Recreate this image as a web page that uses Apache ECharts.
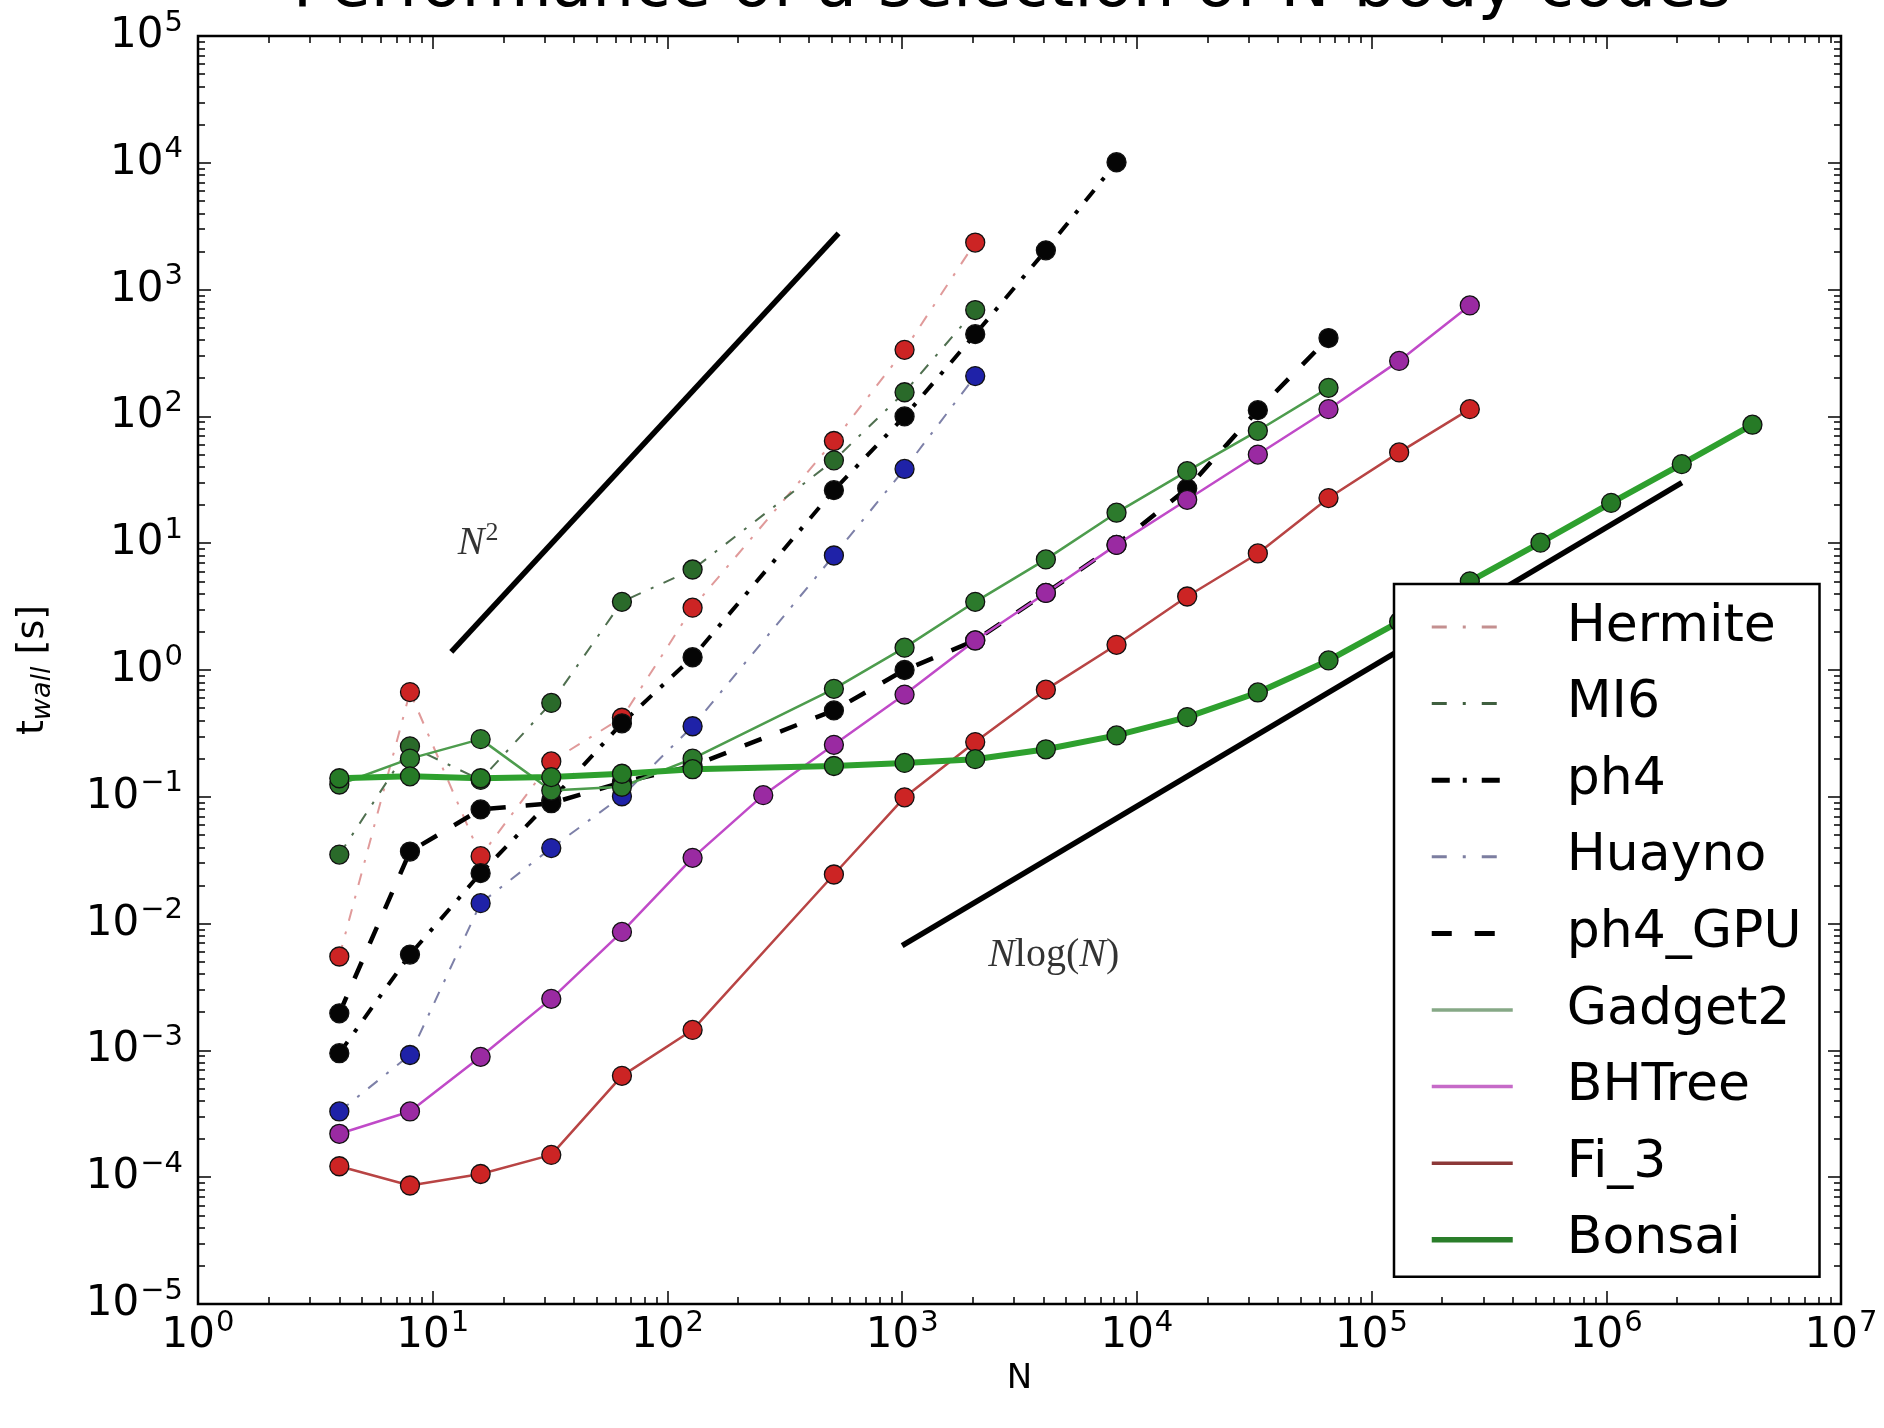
<!DOCTYPE html>
<html>
<head>
<meta charset="utf-8">
<script src="https://cdn.jsdelivr.net/npm/echarts@6/dist/echarts.min.js"></script>
<style>
html,body{margin:0;padding:0;background:#ffffff;}
#chart{width:1884px;height:1428px;}
</style>
</head>
<body>
<div id="chart"></div>
<script>
// ---------------- data ----------------
const chartTitle = 'Performance of a selection of N-body codes';
const xAxisName = 'N';
const seriesNames = ['Hermite', 'MI6', 'ph4', 'Huayno', 'ph4_GPU', 'Gadget2', 'BHTree', 'Fi_3', 'Bonsai'];

const nDirect   = [4, 8, 16, 32, 64, 128, 512, 1024, 2048];
const hermiteT  = [0.0055, 0.67, 0.034, 0.19, 0.42, 3.1, 64, 335, 2350];
const mi6T      = [0.035, 0.25, 0.136, 0.55, 3.45, 6.2, 45, 155, 690];
const huaynoT   = [0.00033, 0.00092, 0.0145, 0.0394, 0.101, 0.36, 8.0, 38.5, 208];

const ph4N      = [4, 8, 16, 32, 64, 128, 512, 1024, 2048, 4096, 8192];
const ph4T      = [0.00095, 0.0057, 0.025, 0.094, 0.38, 1.26, 26.2, 100, 445, 2040, 10100];

const ph4GpuN   = [4, 8, 16, 32, 64, 128, 512, 1024, 2048, 4096, 8192, 16384, 32768, 65536];
const ph4GpuT   = [0.00196, 0.037, 0.0795, 0.089, 0.13, 0.175, 0.48, 1.0, 1.71, 4.05, 9.7, 27, 112, 415];

const gadget2N  = [4, 8, 16, 32, 64, 128, 512, 1024, 2048, 4096, 8192, 16384, 32768, 65536];
const gadget2T  = [0.125, 0.2, 0.285, 0.112, 0.12, 0.2, 0.71, 1.5, 3.45, 7.45, 17.4, 37, 77, 168];

const bhtreeN   = [4, 8, 16, 32, 64, 128, 256, 512, 1024, 2048, 4096, 8192, 16384, 32768, 65536, 131072, 262144];
const bhtreeT   = [0.00022, 0.00033, 0.00089, 0.00255, 0.0086, 0.033, 0.103, 0.257, 0.64, 1.71, 4.05, 9.7, 22, 50, 114, 274, 750];

const fi3N      = [4, 8, 16, 32, 64, 128, 512, 1024, 2048, 4096, 8192, 16384, 32768, 65536, 131072, 262144];
const fi3T      = [0.000122, 0.000086, 0.000106, 0.00015, 0.00063, 0.00145, 0.0244, 0.099, 0.27, 0.7, 1.58, 3.8, 8.3, 22.7, 52, 114];

const bonsaiN   = [4, 8, 16, 32, 64, 128, 512, 1024, 2048, 4096, 8192, 16384, 32768, 65536, 131072, 262144, 524288, 1048576, 2097152, 4194304];
const bonsaiT   = [0.14, 0.145, 0.14, 0.143, 0.152, 0.165, 0.175, 0.185, 0.198, 0.237, 0.305, 0.425, 0.665, 1.19, 2.4, 5.0, 10.1, 20.8, 42, 86];

// reference slopes drawn in the figure (end points)
const nSquaredN = [12, 536];
const nSquaredT = [1.39, 2780];
const nLogNN    = [1000, 2100000];
const nLogNT    = [0.0067, 30];

// annotation anchors (data coordinates)
const annotN    = [15.6, 4425];
const annotT    = [9.9, 0.00564];
const annotText = ['N2', 'NlogN'];

// axis ticks
const xMajorTicks = [1, 10, 100, 1000, 10000, 100000, 1000000, 10000000];
const yMajorTicks = [1e-5, 1e-4, 1e-3, 1e-2, 1e-1, 1, 10, 100, 1000, 10000, 100000];
const minorSteps  = [2, 3, 4, 5, 6, 7, 8, 9];

// ---------------- styles ----------------
const styleMap = {
  Hermite: { line: '#e09a9a', width: 2,   dash: [12, 11, 3, 11], marker: '#cc2424',
             legLine: '#c49090', legWidth: 3,   legDash: [15, 16, 3, 16] },
  MI6:     { line: '#4f6f4f', width: 2,   dash: [12, 11, 3, 11], marker: '#2a6a2a',
             legLine: '#3f5f3f', legWidth: 3,   legDash: [15, 16, 3, 16] },
  ph4:     { line: '#000000', width: 4,   dash: [14, 12, 4, 12], marker: '#050505',
             legLine: '#000000', legWidth: 5,   legDash: [18, 13, 4, 15] },
  Huayno:  { line: '#7d80a8', width: 2,   dash: [12, 11, 3, 11], marker: '#1f22a8',
             legLine: '#7c7ea0', legWidth: 3,   legDash: [15, 16, 3, 16] },
  ph4_GPU: { line: '#000000', width: 4.5, dash: [18, 20],        marker: '#050505',
             legLine: '#000000', legWidth: 5,   legDash: [20, 23] },
  Gadget2: { line: '#4d9c4d', width: 2.5, dash: 'solid',         marker: '#2c7a2c',
             legLine: '#86a886', legWidth: 3.5, legDash: 'solid' },
  BHTree:  { line: '#c04ac8', width: 2.5, dash: 'solid',         marker: '#9a2aa2',
             legLine: '#c66ac8', legWidth: 3.5, legDash: 'solid' },
  Fi_3:    { line: '#b84444', width: 2.5, dash: 'solid',         marker: '#cc2424',
             legLine: '#8c3838', legWidth: 3.5, legDash: 'solid' },
  Bonsai:  { line: '#2ea02e', width: 6,   dash: 'solid',         marker: '#267a26',
             legLine: '#2a7e2a', legWidth: 5.5, legDash: 'solid' }
};

const FONT = 'DejaVu Sans';
const zip = (xs, ys) => xs.map((x, i) => [x, ys[i]]);
const minorsOf = majors => {
  const out = [];
  for (let i = 0; i < majors.length - 1; i++) minorSteps.forEach(m => out.push(majors[i] * m));
  return out;
};
const xMinorTicks = minorsOf(xMajorTicks);
const yMinorTicks = minorsOf(yMajorTicks);

const powLabel = v => {
  const e = Math.round(Math.log10(v));
  const s = e < 0 ? '\u2212' + (-e) : String(e);
  return '{b|10}{s|' + s + '}';
};
const powRich = {
  b: { fontFamily: FONT, fontSize: 42, color: '#000' },
  s: { fontFamily: FONT, fontSize: 29, color: '#000', padding: [0, 0, 26, 1] }
};

const seriesData = {
  Hermite: zip(nDirect, hermiteT),
  MI6: zip(nDirect, mi6T),
  ph4: zip(ph4N, ph4T),
  Huayno: zip(nDirect, huaynoT),
  ph4_GPU: zip(ph4GpuN, ph4GpuT),
  Gadget2: zip(gadget2N, gadget2T),
  BHTree: zip(bhtreeN, bhtreeT),
  Fi_3: zip(fi3N, fi3T),
  Bonsai: zip(bonsaiN, bonsaiT)
};

const mainSeries = seriesNames.map(name => {
  const st = styleMap[name];
  return {
    name: name,
    type: 'line',
    data: seriesData[name],
    xAxisIndex: 0, yAxisIndex: 0,
    symbol: 'circle',
    symbolSize: 19,
    showSymbol: true,
    clip: true,
    itemStyle: { color: st.marker, borderColor: '#111', borderWidth: 1.3 },
    lineStyle: { color: st.line, width: st.width, type: st.dash },
    emphasis: { disabled: true },
    animation: false
  };
});

const refLine = (n, t) => ({
  type: 'line',
  data: zip(n, t),
  symbol: 'none',
  lineStyle: { color: '#000', width: 5.5, type: 'solid' },
  xAxisIndex: 0, yAxisIndex: 0,
  emphasis: { disabled: true },
  silent: true,
  animation: false
});

const mathRich = {
  i: { fontFamily: 'Liberation Serif', fontStyle: 'italic', fontSize: 40, color: '#000' },
  r: { fontFamily: 'Liberation Serif', fontSize: 40, color: '#000' },
  s: { fontFamily: 'Liberation Serif', fontSize: 26, color: '#000', padding: [0, 0, 22, 1] }
};
const annotFormat = key => key === 'N2' ? '{i|N}{s|2}' : '{i|N}{r|log(}{i|N}{r|)}';

const annotSeries = {
  type: 'scatter',
  data: annotN.map((n, i) => ({ value: [n, annotT[i]], key: annotText[i] })),
  symbolSize: 1,
  itemStyle: { color: 'rgba(0,0,0,0)' },
  label: {
    show: true,
    position: 'inside',
    formatter: p => annotFormat(p.data.key),
    rich: mathRich
  },
  xAxisIndex: 0, yAxisIndex: 0,
  silent: true,
  animation: false
};

const baseLog = (min, max) => ({
  type: 'log', logBase: 10, min: min, max: max,
  axisLine: { show: false },
  splitLine: { show: false },
  minorTick: { show: false },
  minorSplitLine: { show: false }
});

const tickStyle = { color: '#000', width: 1.5 };

const xAxes = [
  Object.assign(baseLog(1, 1e7), {
    position: 'bottom',
    axisTick: { show: true, inside: true, length: 13, customValues: xMajorTicks, lineStyle: tickStyle },
    axisLabel: { show: true, customValues: xMajorTicks, margin: 5, formatter: powLabel, rich: powRich },
    name: xAxisName, nameLocation: 'middle', nameGap: 55,
    nameTextStyle: { fontFamily: FONT, fontSize: 34, color: '#000' }
  }),
  Object.assign(baseLog(1, 1e7), {
    position: 'bottom',
    axisTick: { show: true, inside: true, length: 7, customValues: xMinorTicks, lineStyle: tickStyle },
    axisLabel: { show: false }
  }),
  Object.assign(baseLog(1, 1e7), {
    position: 'top',
    axisTick: { show: true, inside: true, length: 13, customValues: xMajorTicks, lineStyle: tickStyle },
    axisLabel: { show: false }
  }),
  Object.assign(baseLog(1, 1e7), {
    position: 'top',
    axisTick: { show: true, inside: true, length: 7, customValues: xMinorTicks, lineStyle: tickStyle },
    axisLabel: { show: false }
  })
];

const yAxes = [
  Object.assign(baseLog(1e-5, 1e5), {
    position: 'left',
    axisTick: { show: true, inside: true, length: 13, customValues: yMajorTicks, lineStyle: tickStyle },
    axisLabel: { show: true, customValues: yMajorTicks, margin: 15, formatter: powLabel, rich: powRich },
    name: '{t|t}{w|wall}{t| [s]}', nameLocation: 'middle', nameGap: 142, nameRotate: 90,
    nameTextStyle: {
      rich: {
        t: { fontFamily: FONT, fontSize: 38, color: '#000' },
        w: { fontFamily: FONT, fontSize: 27, fontStyle: 'italic', color: '#000', padding: [18, 0, 0, 0] }
      }
    }
  }),
  Object.assign(baseLog(1e-5, 1e5), {
    position: 'left',
    axisTick: { show: true, inside: true, length: 7, customValues: yMinorTicks, lineStyle: tickStyle },
    axisLabel: { show: false }
  }),
  Object.assign(baseLog(1e-5, 1e5), {
    position: 'right',
    axisTick: { show: true, inside: true, length: 13, customValues: yMajorTicks, lineStyle: tickStyle },
    axisLabel: { show: false }
  }),
  Object.assign(baseLog(1e-5, 1e5), {
    position: 'right',
    axisTick: { show: true, inside: true, length: 7, customValues: yMinorTicks, lineStyle: tickStyle },
    axisLabel: { show: false }
  })
];

const legendData = seriesNames.map(name => {
  const st = styleMap[name];
  return {
    name: name,
    lineStyle: { color: st.legLine, width: st.legWidth, type: st.legDash, opacity: 1 }
  };
});

const chart = echarts.init(document.getElementById('chart'), null, { renderer: 'canvas' });
chart.setOption({
  backgroundColor: '#ffffff',
  animation: false,
  title: {
    text: chartTitle,
    left: 1012, top: -44, padding: 0,
    textAlign: 'center',
    textStyle: { fontFamily: FONT, fontSize: 66, fontWeight: 'normal', color: '#000' }
  },
  grid: {
    left: 198, top: 36, width: 1643, height: 1268,
    show: true, borderColor: '#000', borderWidth: 2.5, backgroundColor: 'rgba(0,0,0,0)',
    containLabel: false
  },
  legend: {
    data: legendData,
    orient: 'vertical',
    left: 1394, top: 584,
    padding: [15, 18, 9, 35],
    itemGap: 20.6,
    itemWidth: 81,
    itemHeight: 14,
    backgroundColor: '#ffffff',
    borderColor: '#000',
    borderWidth: 2.5,
    borderRadius: 0,
    selectedMode: false,
    itemStyle: { opacity: 0 },
    textStyle: { fontFamily: FONT, fontSize: 52, color: '#000', lineHeight: 56, padding: [0, 0, 0, 49] }
  },
  xAxis: xAxes,
  yAxis: yAxes,
  series: [
    refLine(nSquaredN, nSquaredT),
    refLine(nLogNN, nLogNT),
    annotSeries
  ].concat(mainSeries)
});
</script>
</body>
</html>
